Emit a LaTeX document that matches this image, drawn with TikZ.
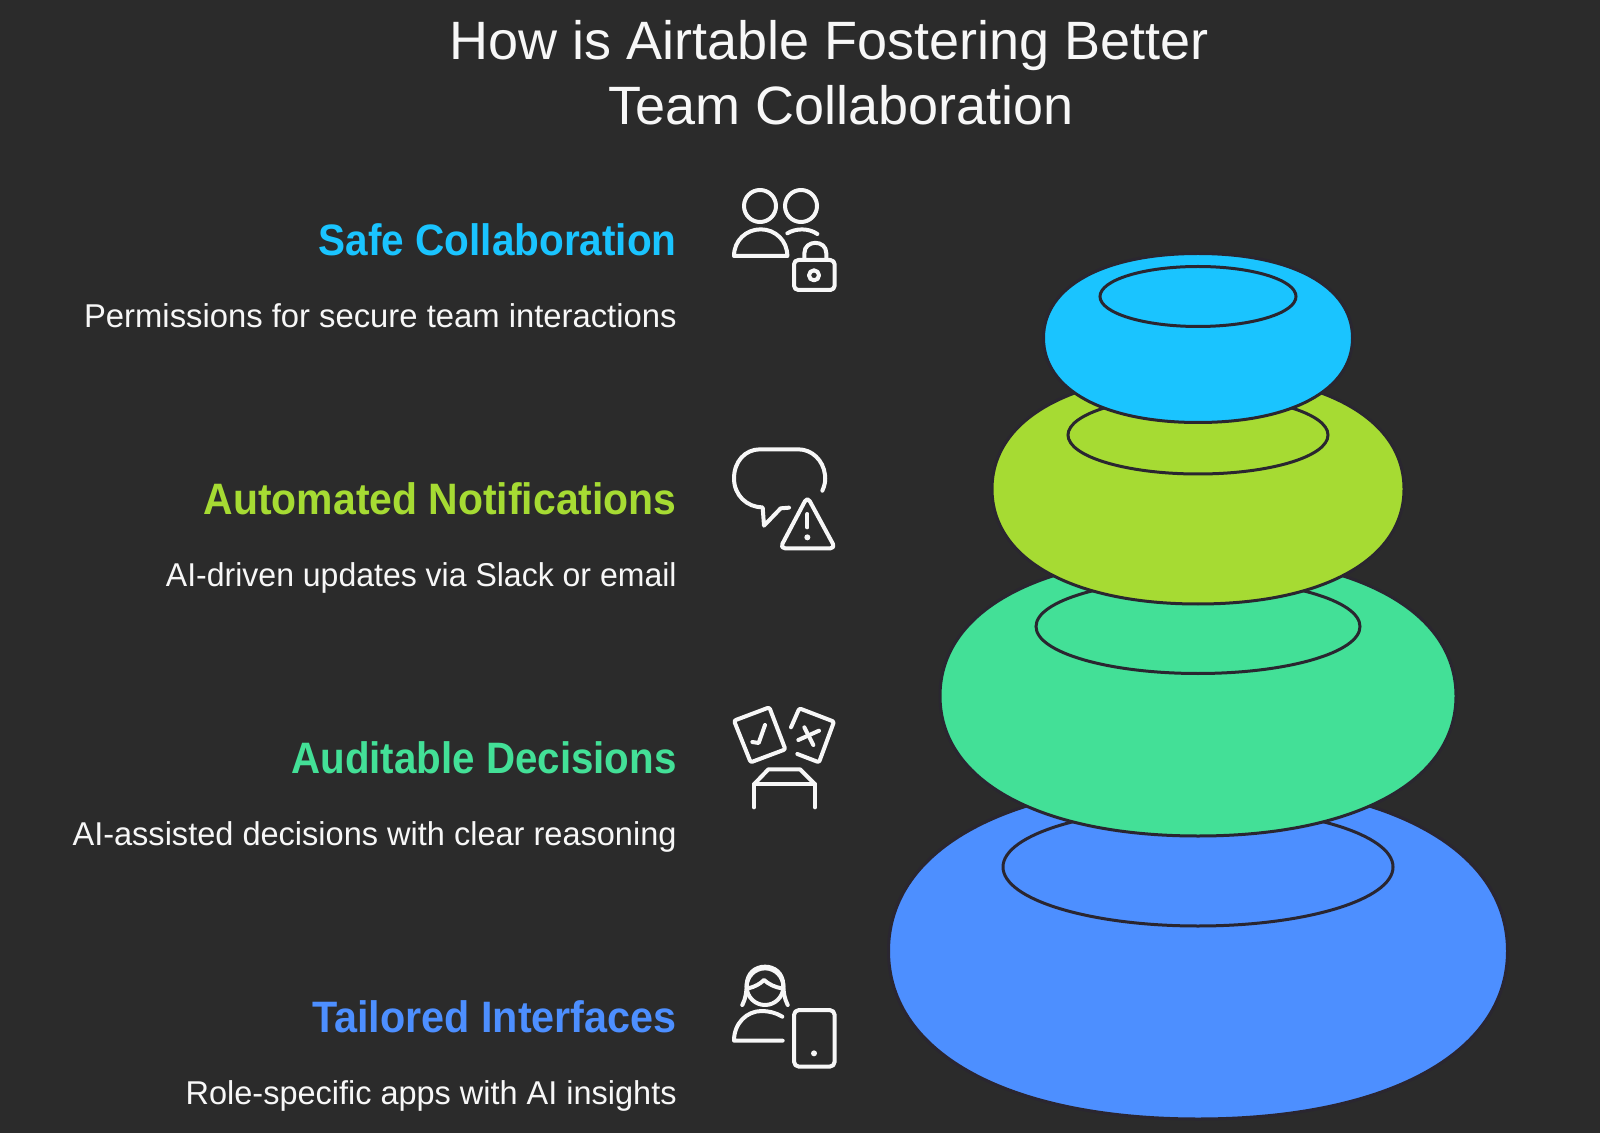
\documentclass[tikz,border=0pt]{standalone}
\usepackage{fontspec}
\setmainfont{Liberation Sans}
\newfontfamily\headfont[FakeStretch=0.93]{Liberation Sans}
\definecolor{bgc}{HTML}{2B2B2B}
\definecolor{edgec}{HTML}{2A2630}
\definecolor{txtc}{HTML}{F7F7F7}
\definecolor{ca}{HTML}{1AC4FF}
\definecolor{cb}{HTML}{A6DB33}
\definecolor{cc}{HTML}{43E097}
\definecolor{cd}{HTML}{4D8FFF}
\tikzset{
  titletext/.style={text=txtc,font=\fontsize{27}{31}\selectfont,anchor=base,inner sep=0pt,align=center},
  headtext/.style={font=\headfont\fontsize{22}{26}\bfseries\selectfont,anchor=base east,inner sep=0pt},
  desctext/.style={text=txtc,font=\fontsize{16.5}{19}\selectfont,anchor=base east,inner sep=0pt},
  ringline/.style={draw=edgec,line width=1.5pt},
  iconline/.style={draw=txtc,line width=2pt,line cap=round,line join=round},
  iconfill/.style={fill=txtc},
  iconscope/.style={x=0.16667pt,y=-0.16667pt},
}
% torus: cx, widest y, half width, half height, colour, inner cy, inner rx, inner ry
\newcommand{\torus}[8]{%
  \fill[#5,draw=edgec,line width=1.5pt]
    ({#1-#3},#2) .. controls ({#1-#3},{#2-0.62*#4}) and ({#1-0.6*#3},{#2-#4}) .. (#1,{#2-#4})
    .. controls ({#1+0.6*#3},{#2-#4}) and ({#1+#3},{#2-0.62*#4}) .. ({#1+#3},#2)
    .. controls ({#1+#3},{#2+0.62*#4}) and ({#1+0.6*#3},{#2+#4}) .. (#1,{#2+#4})
    .. controls ({#1-0.6*#3},{#2+#4}) and ({#1-#3},{#2+0.62*#4}) .. ({#1-#3},#2) -- cycle;
  \draw[ringline] (#1,#6) ellipse [x radius=#7,y radius=#8];
}
\begin{document}
\begin{tikzpicture}[x=0.5pt,y=-0.5pt]
\useasboundingbox (0,0) rectangle (1600,1133);
\fill[bgc] (0,0) rectangle (1600,1133);

\torus{1198}{951}{309.5}{168}{cd}{867}{195}{59}
\torus{1198}{696}{258}{140}{cc}{626.5}{162}{47}
\torus{1198}{489}{206}{115}{cb}{435}{130}{39}
\torus{1198}{338}{154.5}{84.5}{ca}{296.5}{98}{30}

\node[titletext] (t1) at (829,60) {How is Airtable Fostering Better};
\node[titletext] (t2) at (841,125) {Team Collaboration};

\node[headtext,text=ca] (h1) at (677,256) {\scalebox{0.99}[1]{Safe Collaboration}};
\node[desctext] (d1) at (677,328) {\scalebox{0.994}[1]{Permissions for secure team interactions}};
\node[headtext,text=cb] (h2) at (677,515) {Automated Notifications};
\node[desctext] (d2) at (677,587) {\scalebox{0.97}[1]{AI-driven updates via Slack or email}};
\node[headtext,text=cc] (h3) at (677,773) {\scalebox{0.985}[1]{Auditable Decisions}};
\node[desctext] (d3) at (677,845) {\scalebox{0.986}[1]{AI-assisted decisions with clear reasoning}};
\node[headtext,text=cd] (h4) at (677,1032) {\scalebox{1.01}[1]{Tailored Interfaces}};
\node[desctext] (d4) at (677,1104) {\scalebox{0.984}[1]{Role-specific apps with AI insights}};

% icon 1
\begin{scope}[iconscope,shift={(355pt,-85pt)}]
  \draw[iconline] (150,108) circle[radius=48];
  \draw[iconline] (273,108) circle[radius=48];
  \draw[iconline] (72,258) .. controls (72,212) and (108,178) .. (152,178) .. controls (196,178) and (232,212) .. (232,258) -- cycle;
  \draw[iconline] (232,190) .. controls (258,174) and (296,174) .. (322,192);
  \draw[iconline,rounded corners=2.2pt] (252,270) rectangle (374,360);
  \draw[iconline] (283,265) -- (283,250) .. controls (283,208) and (349,208) .. (349,250) -- (349,265);
  \draw[iconline] (312,316) circle[radius=15];
\end{scope}
% icon 2
\begin{scope}[iconscope,shift={(355pt,-215pt)}]
  \draw[iconline] (337,182) .. controls (345,165) and (347,150) .. (345,135) .. controls (340,90) and (305,58) .. (265,58) -- (150,58) .. controls (105,58) and (72,95) .. (72,145) .. controls (72,195) and (110,232) .. (158,232) -- (162,287) -- (212,235) -- (237,233);
  \draw[iconline,rounded corners=2.5pt] (292,200) -- (376,355) -- (210,355) -- cycle;
  \draw[iconline] (292,252) -- (292,292);
  \fill[iconfill] (292,322) circle[radius=9];
\end{scope}
% icon 3
\begin{scope}[iconscope,shift={(355pt,-345pt)}]
  \draw[iconline,rounded corners=1pt] (72,92) -- (178,52) -- (226,178) -- (122,217) -- cycle;
  \draw[iconline] (127,156) -- (146,159) -- (165,105);
  \draw[iconline] (265,150) -- (327,122);
  \draw[iconline] (283,112) -- (310,165);
  \draw[iconline,rounded corners=1pt] (243,112) -- (268,55) -- (372,95) -- (327,217) -- (262,192);
  \draw[iconline] (132,352) -- (132,283) -- (315,283) -- (315,352);
  \draw[iconline] (132,283) -- (175,238) -- (270,238) -- (315,283);
\end{scope}
% icon 4
\begin{scope}[iconscope,shift={(355pt,-475pt)}]
  \draw[iconline] (165,110) circle[radius=55];
  \draw[iconline] (97,165) .. controls (107,145) and (110,125) .. (110,103) .. controls (112,70) and (135,50) .. (165,50) .. controls (195,50) and (218,70) .. (220,103) .. controls (220,125) and (223,145) .. (233,165);
  \draw[iconline] (115,115) .. controls (135,110) and (150,102) .. (162,90) .. controls (175,102) and (195,112) .. (215,115);
  \draw[iconline] (217,200) .. controls (198,188) and (175,183) .. (155,183) .. controls (110,183) and (72,220) .. (72,272) -- (218,272);
  \draw[iconline,rounded corners=2.5pt] (252,180) rectangle (374,350);
  \fill[iconfill] (312,310) circle[radius=9];
\end{scope}
\end{tikzpicture}
\end{document}
